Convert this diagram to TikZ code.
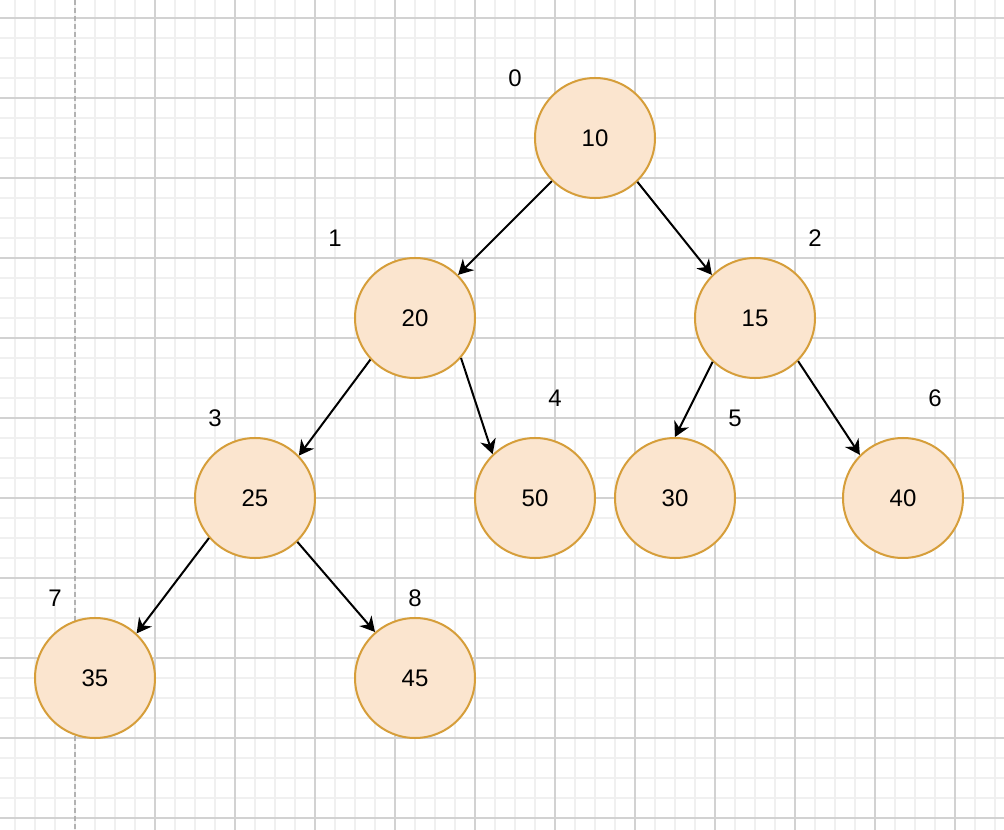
\documentclass[tikz,border=0pt]{standalone}
\usepackage{fontspec}
\setmainfont{Liberation Sans}
\usetikzlibrary{arrows.meta}
\definecolor{heapfill}{HTML}{FBE5CF}
\definecolor{heapline}{HTML}{D69E3A}
\definecolor{gridminor}{HTML}{F0F0F0}
\definecolor{gridmajor}{HTML}{D2D2D2}
\begin{document}
\begin{tikzpicture}[x=0.75pt, y=-0.75pt]
            \tikzstyle{heapnode} = [circle, minimum size=90pt, inner sep=0pt, draw=heapline, fill=heapfill, line width=1.5pt, font=\fontsize{18}{21}\selectfont]
            \tikzstyle{index} = [inner sep=0pt, font=\fontsize{18}{21}\selectfont]
            \tikzstyle{arrow} = [line width=1.5pt, -{Stealth[length=11pt, width=12pt, inset=3.5pt]}]

            \useasboundingbox (0,0) rectangle (1004,830);
            \fill[white] (0,0) rectangle (1004,830);

            % Grid
            \foreach \gx in {15,35,...,995} \draw[gridminor, line width=0.9pt] (\gx,0) -- (\gx,830);
            \foreach \gy in {18,38,...,818} \draw[gridminor, line width=0.9pt] (0,\gy) -- (1004,\gy);
            \foreach \gx in {155,235,...,955} \draw[gridmajor, line width=0.9pt] (\gx,0) -- (\gx,830);
            \foreach \gy in {18,98,...,818} \draw[gridmajor, line width=0.9pt] (0,\gy) -- (1004,\gy);
            \draw[gray!60, line width=0.9pt, dash pattern=on 4pt off 2pt] (75,0) -- (75,830);

            % Nodes
            \node (n10) [heapnode] at (595,138) {10};
            \node (n20) [heapnode] at (415,318) {20};
            \node (n15) [heapnode] at (755,318) {15};
            \node (n25) [heapnode] at (255,498) {25};
            \node (n50) [heapnode] at (535,498) {50};
            \node (n30) [heapnode] at (675,498) {30};
            \node (n40) [heapnode] at (903,498) {40};
            \node (n35) [heapnode] at (95,678) {35};
            \node (n45) [heapnode] at (415,678) {45};

            % Indices
            \node (i0) [index] at (515,78) {0};
            \node (i1) [index] at (335,238) {1};
            \node (i2) [index] at (815,238) {2};
            \node (i3) [index] at (215,418) {3};
            \node (i4) [index] at (555,398) {4};
            \node (i5) [index] at (735,418) {5};
            \node (i6) [index] at (935,398) {6};
            \node (i7) [index] at (55,598) {7};
            \node (i8) [index] at (415,598) {8};

            % Arrows
            \draw [arrow] (n10.-135) -- (n20.45);
            \draw [arrow] (n10.-46) -- (n15.135);
            \draw [arrow] (n20.-137) -- (n25.44);
            \draw [arrow] (n20.-41) -- (n50.134);
            \draw [arrow] (n15.-134) -- (n30.90);
            \draw [arrow] (n15.-45) -- (n40.135);
            \draw [arrow] (n25.-139) -- (n35.47);
            \draw [arrow] (n25.-46) -- (n45.131);
        \end{tikzpicture}
\end{document}
